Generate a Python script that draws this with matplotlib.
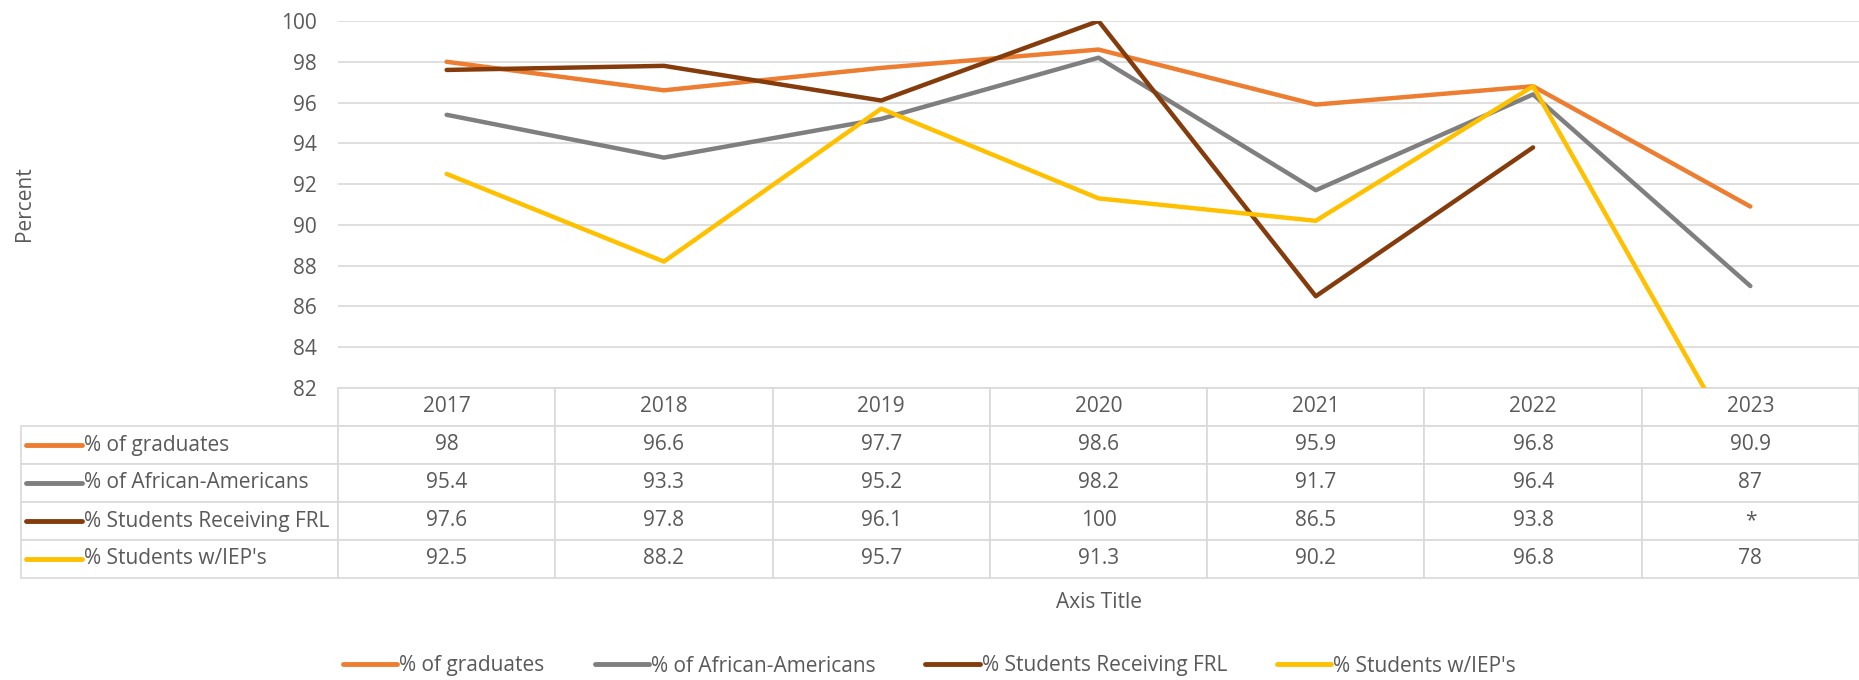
import matplotlib
matplotlib.use("Agg")
import matplotlib.pyplot as plt
from matplotlib.lines import Line2D
import numpy as np

plt.rcParams['font.family'] = ['Open Sans', 'DejaVu Sans']

# Data
years = ["2017", "2018", "2019", "2020", "2021", "2022", "2023"]
series_names = ["% of graduates", "% of African-Americans",
                "% Students Receiving FRL", "% Students w/IEP's"]
graduates = [98, 96.6, 97.7, 98.6, 95.9, 96.8, 90.9]
african_americans = [95.4, 93.3, 95.2, 98.2, 91.7, 96.4, 87]
frl = [97.6, 97.8, 96.1, 100, 86.5, 93.8, np.nan]
iep = [92.5, 88.2, 95.7, 91.3, 90.2, 96.8, 78]
y_ticks = list(range(82, 101, 2))

colors = ["#ED7D31", "#7F7F7F", "#843C0C", "#FFC000"]
txt_col = "#595959"
grid_col = "#D9D9D9"
fs = 15

W, H = 1859, 680
fig = plt.figure(figsize=(W / 100, H / 100), dpi=100)
ax = fig.add_axes([338 / W, 1 - 388 / H, 1 - 338 / W, (388 - 21) / H])

all_series = [graduates, african_americans, frl, iep]
x = np.arange(len(years))
for vals, c in zip(all_series, colors):
    ax.plot(x, vals, color=c, lw=3.2, solid_joinstyle="round", solid_capstyle="round")

ax.set_xlim(-0.5, len(years) - 0.5)
ax.set_ylim(82, 100)
ax.set_yticks(y_ticks)
ax.set_xticks([])
ax.tick_params(axis="y", length=0, pad=15, labelsize=fs, labelcolor=txt_col)
ax.grid(axis="y", color=grid_col, lw=1.2)
ax.set_axisbelow(True)
for s in ax.spines.values():
    s.set_visible(False)

# data table under the plot (bbox covers the year columns, label column hangs left)
ax_w = W - 338
ax_h = 388 - 21
label_w = 338 - 21
col_w = ax_w / len(years)
cell_text = [["*" if np.isnan(v) else f"{v:g}" for v in s] for s in all_series]
tbl = ax.table(cellText=cell_text, colLabels=years, cellLoc="center",
               colWidths=[col_w / ax_w] * len(years),
               bbox=[0, -190 / ax_h, 1, 190 / ax_h])
cell_h = tbl[(1, 0)].get_height()
for r in range(1, len(series_names) + 1):
    tbl.add_cell(r, -1, width=label_w / ax_w, height=cell_h, text="")
tbl.auto_set_font_size(False)
tbl.set_fontsize(fs)
for (r, c), cell in tbl.get_celld().items():
    cell.set_edgecolor(grid_col)
    cell.set_linewidth(1.2)
    cell.get_text().set_color(txt_col)

# row labels with line keys
row_h = 190 / 5
for i, (name, c) in enumerate(zip(series_names, colors)):
    yc = 1 - (388 + row_h * (i + 1.5)) / H
    fig.add_artist(Line2D([26 / W, 82 / W], [yc, yc], color=c, lw=3.5,
                          solid_capstyle="round"))
    fig.text(84 / W, yc, name, ha="left", va="center", fontsize=fs, color=txt_col)

fig.text(24 / W, 1 - 204 / H, "Percent", rotation=90, ha="center", va="center",
         fontsize=fs, color=txt_col)
fig.text(1099 / W, 1 - 602 / H, "Axis Title", ha="center", va="center",
         fontsize=fs, color=txt_col)

handles = [Line2D([], [], color=c, lw=3.5, solid_capstyle="round") for c in colors]
leg = fig.legend(handles, series_names, loc="center", bbox_to_anchor=(0.5, 1 - 666 / H),
                 ncol=4, frameon=False, fontsize=fs, handlelength=2.6,
                 handletextpad=0.1, columnspacing=2.4, borderpad=0)
for t in leg.get_texts():
    t.set_color(txt_col)

fig.savefig("out.png", dpi=100)
